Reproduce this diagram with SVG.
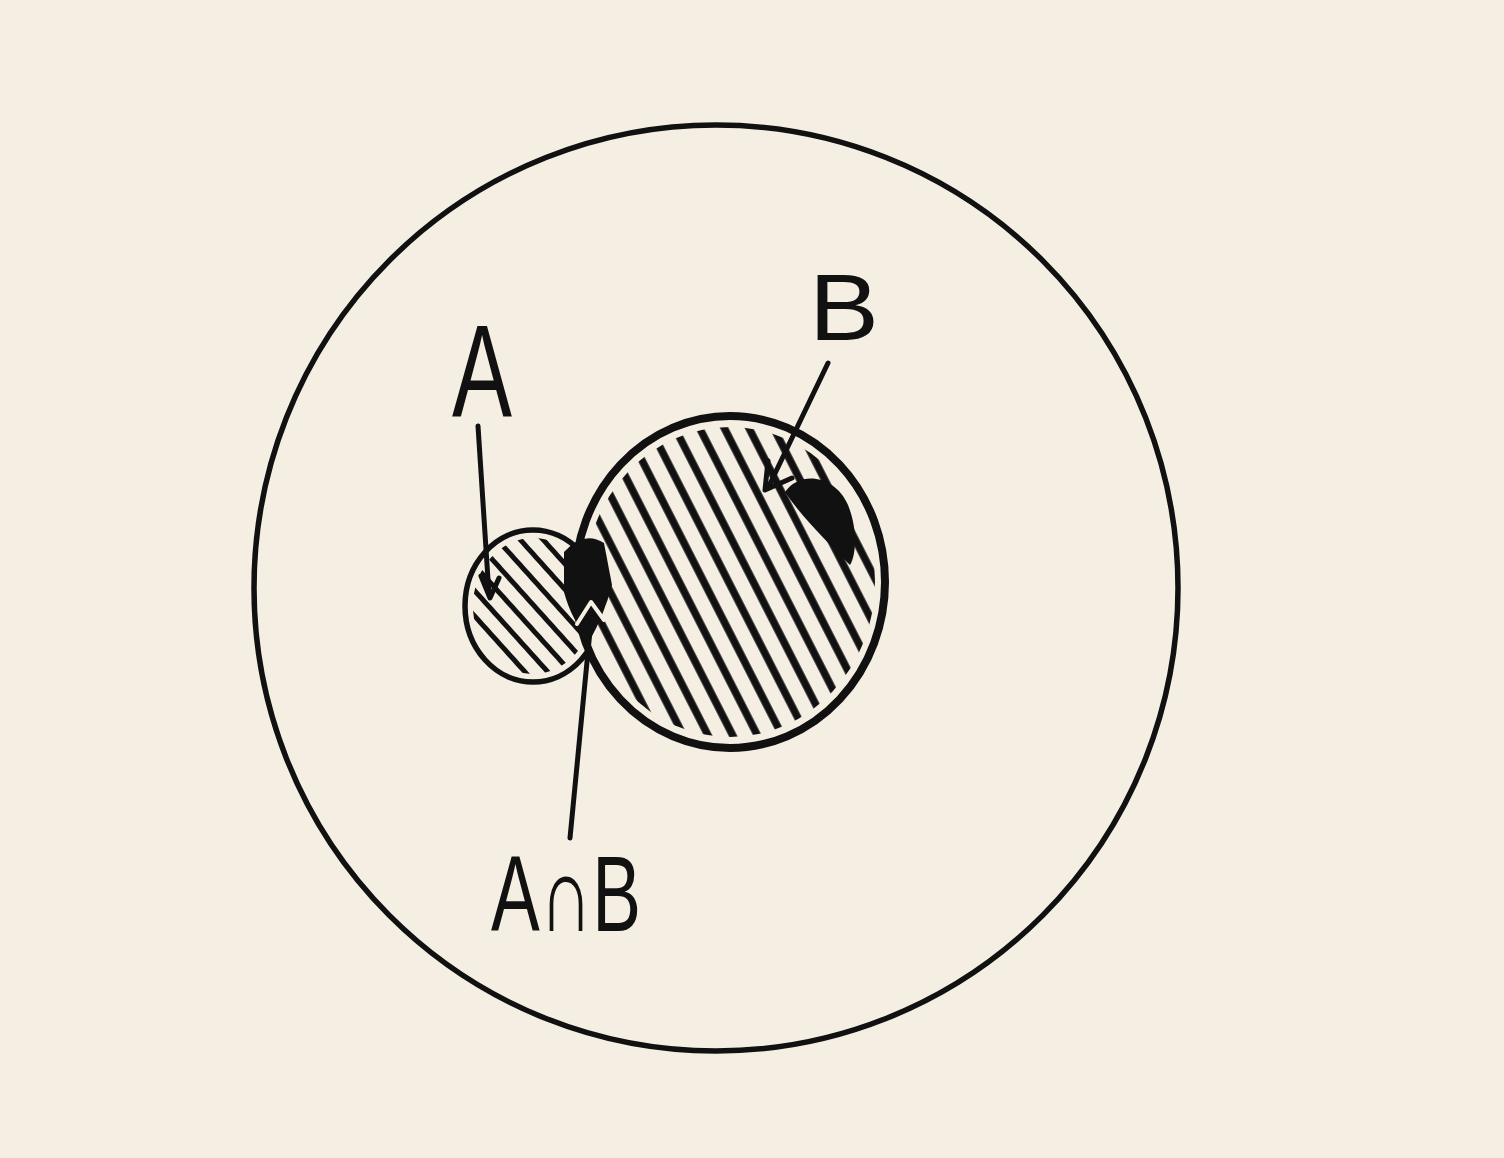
<svg xmlns="http://www.w3.org/2000/svg" width="1504" height="1158" viewBox="0 0 1504 1158">
  <style>
    .ink { fill: none; stroke: #111; stroke-linecap: round; stroke-linejoin: round; }
    .lbl { font-family: "Liberation Sans", "DejaVu Sans", sans-serif; fill: #111; }
  </style>
  <defs>
    <pattern id="hatchB" patternUnits="userSpaceOnUse" width="22" height="22" patternTransform="rotate(-27)">
      <line x1="11" y1="0" x2="11" y2="22" stroke="#111" stroke-width="7.5"/>
    </pattern>
    <pattern id="hatchA" patternUnits="userSpaceOnUse" width="17" height="17" patternTransform="rotate(-42)">
      <line x1="8.5" y1="0" x2="8.5" y2="17" stroke="#111" stroke-width="5"/>
    </pattern>
    <clipPath id="clipB"><ellipse cx="730" cy="582" rx="145" ry="155"/></clipPath>
    <clipPath id="clipA"><ellipse cx="533" cy="606" rx="60" ry="68"/></clipPath>
  </defs>
  <rect width="1504" height="1158" fill="#F5EFE3"/>

  <g id="universe">
    <ellipse class="ink" cx="716" cy="588" rx="462" ry="463" stroke-width="5.5"/>
  </g>

  <g id="setA">
    <ellipse class="ink" cx="533" cy="606" rx="68" ry="76" stroke-width="5.5"/>
    <rect x="460" y="525" width="150" height="165" fill="url(#hatchA)" clip-path="url(#clipA)"/>
    <text class="lbl" x="452" y="417" font-size="132" textLength="60" lengthAdjust="spacingAndGlyphs">A</text>
  </g>

  <g id="setB">
    <ellipse cx="730" cy="582" rx="155" ry="166" fill="#F5EFE3"/>
    <rect x="570" y="410" width="320" height="345" fill="url(#hatchB)" clip-path="url(#clipB)"/>
    <path d="M 785 492 C 800 470 835 475 848 505 C 858 530 856 555 850 565 C 830 545 800 515 785 492 Z" fill="#111"/>
    <ellipse class="ink" cx="730" cy="582" rx="155" ry="166" stroke-width="8"/>
    <text class="lbl" x="809" y="340" font-size="95" textLength="70" lengthAdjust="spacingAndGlyphs">B</text>
  </g>

  <g id="intersection">
    <path d="M 564 552 Q 584 530 604 543 L 612 585 Q 604 615 590 640 Q 572 622 564 592 Z" fill="#111"/>
    <text class="lbl" x="491" y="931" font-size="108" textLength="150" lengthAdjust="spacingAndGlyphs">A∩B</text>
  </g>

  <g id="connectors">
    <path class="ink" d="M 478 426 L 489 595" stroke-width="5"/>
    <path class="ink" d="M 481 576 L 490 598 L 499 578" stroke-width="5"/>
    <path class="ink" d="M 828 363 L 768 488" stroke-width="5"/>
    <path class="ink" d="M 768 461 L 765 490 L 792 478" stroke-width="5"/>
    <path class="ink" d="M 570 838 L 592 610" stroke-width="5"/>
    <path d="M 577 624 L 591 602 L 604 620" fill="none" stroke="#F5EFE3" stroke-width="4" stroke-linecap="round" stroke-linejoin="round"/>
  </g>
</svg>
